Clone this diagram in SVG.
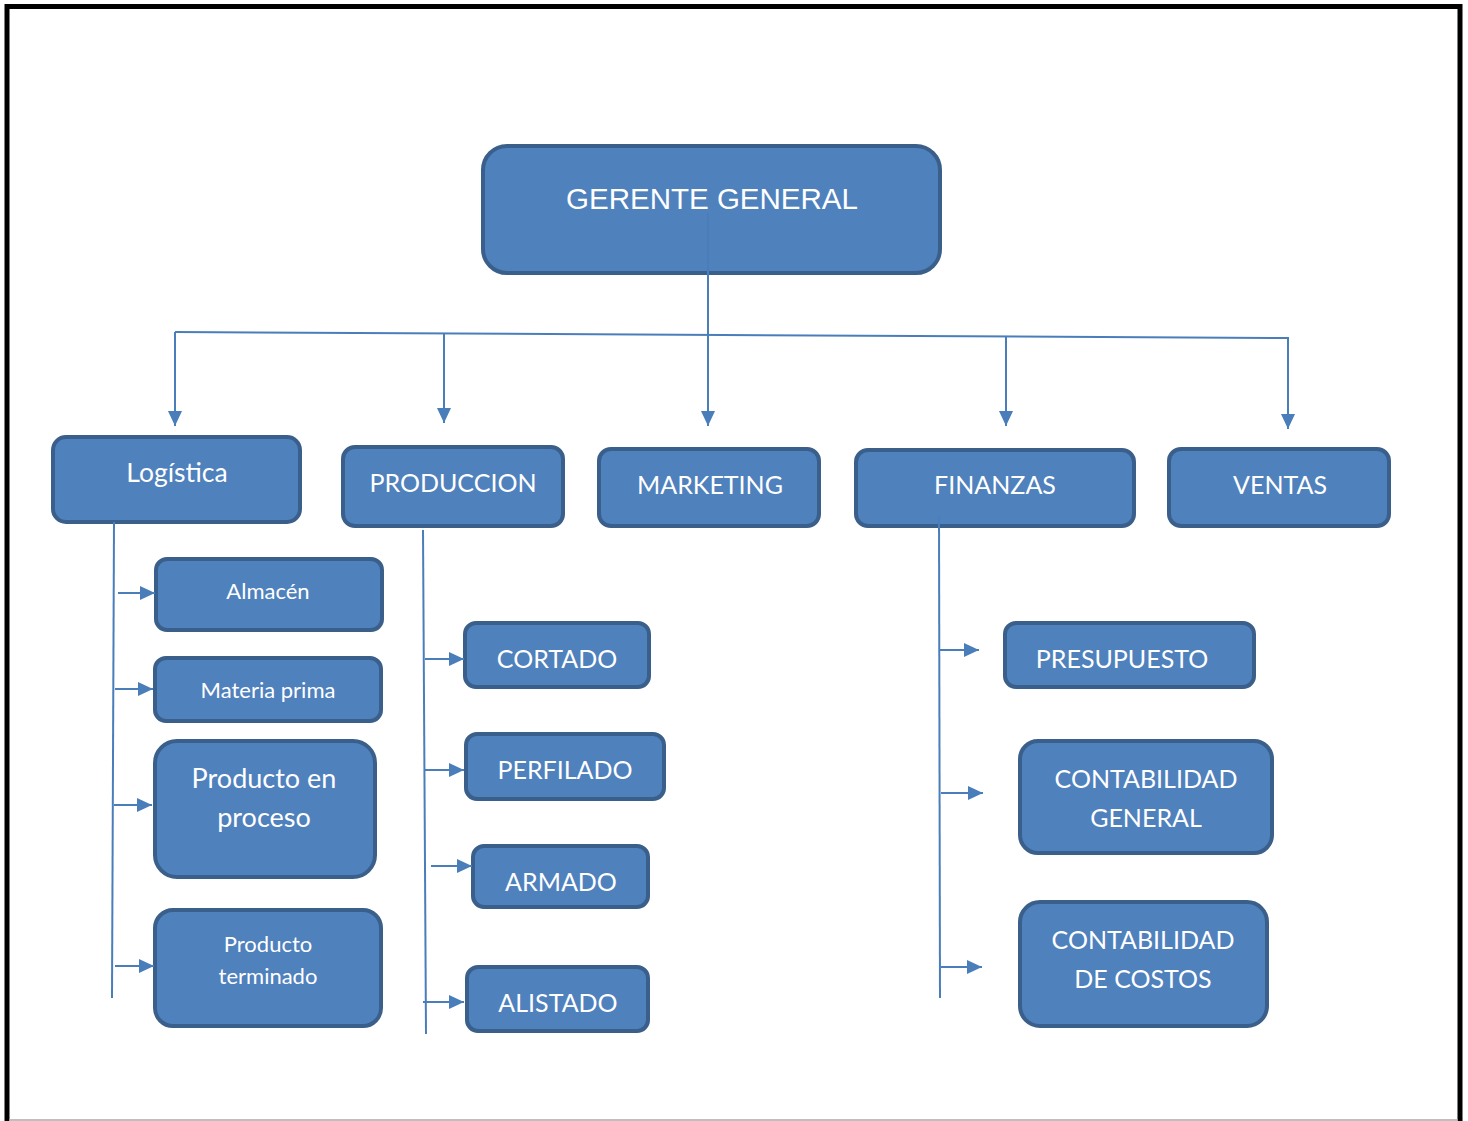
<svg xmlns="http://www.w3.org/2000/svg" width="1468" height="1121" viewBox="0 0 1468 1121">
<style>
.box{fill:#4F81BD;stroke:#3A5F8B;stroke-width:4}
.t{fill:#fff;font-family:Lato,"Open Sans","Noto Sans",sans-serif;text-anchor:middle}
.ta{fill:#fff;font-family:"Liberation Sans",Arial,sans-serif;text-anchor:middle}
.c{fill:none;stroke:#4A7EBB;stroke-width:2}
</style>
<defs>
<marker id="ah" markerUnits="userSpaceOnUse" markerWidth="16" markerHeight="16" refX="15" refY="8" orient="auto">
<path d="M0,1 L15,8 L0,15 Z" fill="#4A7EBB"/>
</marker>
</defs>
<rect x="0" y="0" width="1468" height="1121" fill="#fff"/>
<path d="M7,1121 V6.5 H1460 V1121" fill="none" stroke="#000" stroke-width="5"/>
<line x1="9" y1="1120" x2="1458" y2="1120" stroke="#aaa" stroke-width="1.5"/>

<g id="gerente"><rect class="box" x="483" y="146" width="457" height="127" rx="24"/><text class="ta" x="712" y="209" font-size="29.5">GERENTE GENERAL</text></g>
<g id="logistica"><rect class="box" x="53" y="437" width="247" height="85" rx="13"/><text class="t" x="177" y="482" font-size="26.5">Logística</text></g>
<g id="produccion"><rect class="box" x="343" y="447" width="220" height="79" rx="12"/><text class="t" x="453" y="492" font-size="25">PRODUCCION</text></g>
<g id="marketing"><rect class="box" x="599" y="449" width="220" height="77" rx="12"/><text class="t" x="710" y="494" font-size="25">MARKETING</text></g>
<g id="finanzas"><rect class="box" x="856" y="450" width="278" height="76" rx="12"/><text class="t" x="995" y="494" font-size="25">FINANZAS</text></g>
<g id="ventas"><rect class="box" x="1169" y="449" width="220" height="77" rx="12"/><text class="t" x="1280" y="494" font-size="25">VENTAS</text></g>

<g id="almacen"><rect class="box" x="156" y="559" width="226" height="71" rx="11"/><text class="t" x="268" y="599" font-size="22">Almacén</text></g>
<g id="materia"><rect class="box" x="155" y="658" width="226" height="63" rx="11"/><text class="t" x="268" y="698" font-size="22">Materia prima</text></g>
<g id="proceso"><rect class="box" x="155" y="741" width="220" height="136" rx="22"/><text class="t" x="264" y="788" font-size="27">Producto en</text><text class="t" x="264" y="827" font-size="27">proceso</text></g>
<g id="terminado"><rect class="box" x="155" y="910" width="226" height="116" rx="18"/><text class="t" x="268" y="952" font-size="22">Producto</text><text class="t" x="268" y="984" font-size="22">terminado</text></g>

<g id="cortado"><rect class="box" x="465" y="623" width="184" height="64" rx="11"/><text class="t" x="557" y="668" font-size="25">CORTADO</text></g>
<g id="perfilado"><rect class="box" x="466" y="734" width="198" height="65" rx="11"/><text class="t" x="565" y="779" font-size="25">PERFILADO</text></g>
<g id="armado"><rect class="box" x="473" y="846" width="175" height="61" rx="11"/><text class="t" x="561" y="891" font-size="25">ARMADO</text></g>
<g id="alistado"><rect class="box" x="467" y="967" width="181" height="64" rx="11"/><text class="t" x="558" y="1012" font-size="25">ALISTADO</text></g>

<g id="presupuesto"><rect class="box" x="1005" y="623" width="249" height="64" rx="11"/><text class="t" x="1122" y="668" font-size="25">PRESUPUESTO</text></g>
<g id="contgeneral"><rect class="box" x="1020" y="741" width="252" height="112" rx="18"/><text class="t" x="1146" y="788" font-size="25">CONTABILIDAD</text><text class="t" x="1146" y="827" font-size="25">GENERAL</text></g>
<g id="contcostos"><rect class="box" x="1020" y="902" width="247" height="124" rx="20"/><text class="t" x="1143" y="949" font-size="25">CONTABILIDAD</text><text class="t" x="1143" y="988" font-size="25">DE COSTOS</text></g>

<g id="connectors">
<line class="c" x1="175" y1="332" x2="1289" y2="338"/>
<line class="c" x1="708" y1="213" x2="708" y2="426" marker-end="url(#ah)"/>
<line class="c" x1="175" y1="332" x2="175" y2="426" marker-end="url(#ah)"/>
<line class="c" x1="444" y1="333" x2="444" y2="423" marker-end="url(#ah)"/>
<line class="c" x1="1006" y1="336" x2="1006" y2="426" marker-end="url(#ah)"/>
<line class="c" x1="1288" y1="338" x2="1288" y2="429" marker-end="url(#ah)"/>

<line class="c" x1="114" y1="522" x2="112" y2="998"/>
<line class="c" x1="118" y1="593" x2="155" y2="593" marker-end="url(#ah)"/>
<line class="c" x1="115" y1="689" x2="153" y2="689" marker-end="url(#ah)"/>
<line class="c" x1="114" y1="805" x2="152" y2="805" marker-end="url(#ah)"/>
<line class="c" x1="115" y1="966" x2="154" y2="966" marker-end="url(#ah)"/>

<line class="c" x1="423" y1="530" x2="426" y2="1034"/>
<line class="c" x1="425" y1="659" x2="464" y2="659" marker-end="url(#ah)"/>
<line class="c" x1="424" y1="770" x2="464" y2="770" marker-end="url(#ah)"/>
<line class="c" x1="431" y1="866" x2="472" y2="866" marker-end="url(#ah)"/>
<line class="c" x1="423" y1="1002" x2="464" y2="1002" marker-end="url(#ah)"/>

<line class="c" x1="939" y1="516" x2="940" y2="998"/>
<line class="c" x1="940" y1="650" x2="979" y2="650" marker-end="url(#ah)"/>
<line class="c" x1="941" y1="793" x2="983" y2="793" marker-end="url(#ah)"/>
<line class="c" x1="941" y1="967" x2="982" y2="967" marker-end="url(#ah)"/>
</g>
</svg>
